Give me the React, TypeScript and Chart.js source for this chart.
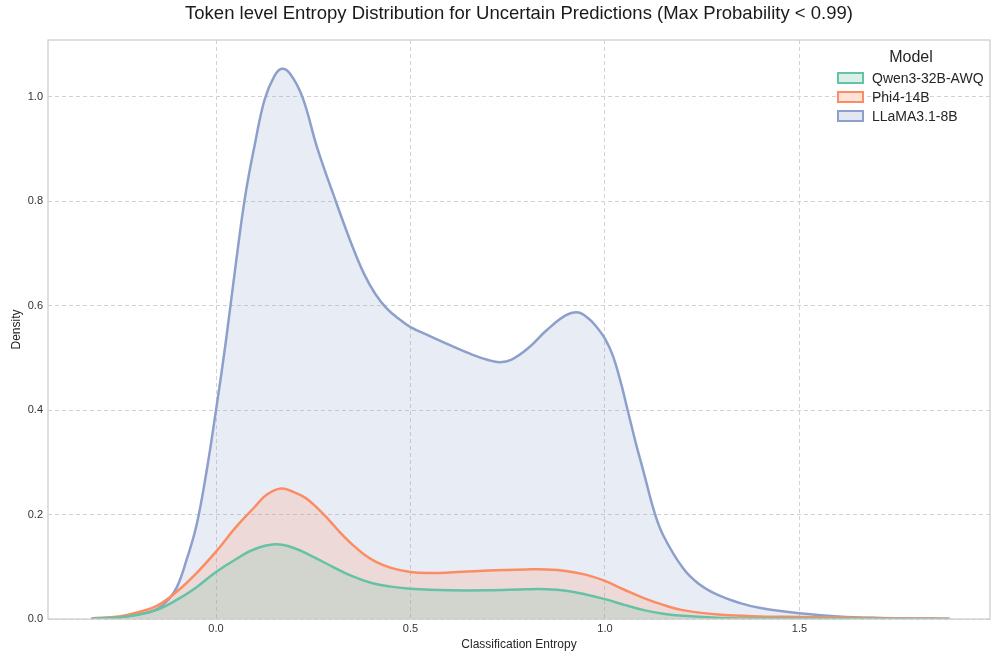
import React, { useEffect, useRef } from "react";
import { Chart, registerables } from "chart.js";

Chart.register(...registerables);

const TITLE = "Token level Entropy Distribution for Uncertain Predictions (Max Probability < 0.99)";
const X_LABEL = "Classification Entropy";
const Y_LABEL = "Density";
const LEGEND_TITLE = "Model";

const X_TICKS = [0.0, 0.5, 1.0, 1.5];
const Y_TICKS = [0.0, 0.2, 0.4, 0.6, 0.8, 1.0];
const X_MIN = -0.432;
const X_MAX = 1.99;
const Y_MAX = 1.109;

const SERIES_NAMES = ["Qwen3-32B-AWQ", "Phi4-14B", "LLaMA3.1-8B"];
const SERIES_COLORS = ["#66c2a5", "#fc8d62", "#8da0cb"];

// Qwen3-32B-AWQ
const QWEN_X = [-0.32, -0.25, -0.2, -0.15, -0.1, -0.05, 0.0, 0.05, 0.1, 0.153, 0.2, 0.25, 0.3, 0.35, 0.4, 0.45, 0.5, 0.6, 0.7, 0.8, 0.85, 0.9, 0.95, 1.0, 1.05, 1.1, 1.15, 1.2, 1.3, 1.4, 1.5, 1.7, 1.886];
const QWEN_Y = [0.0005, 0.003, 0.008, 0.018, 0.037, 0.061, 0.09, 0.114, 0.134, 0.143, 0.136, 0.119, 0.1, 0.082, 0.069, 0.062, 0.058, 0.055, 0.055, 0.057, 0.057, 0.054, 0.047, 0.038, 0.027, 0.017, 0.01, 0.006, 0.002, 0.001, 0.0006, 0.0003, 0.0001];

// Phi4-14B
const PHI_X = [-0.32, -0.25, -0.2, -0.15, -0.1, -0.05, 0.0, 0.05, 0.1, 0.13, 0.167, 0.2, 0.23, 0.26, 0.29, 0.32, 0.35, 0.38, 0.41, 0.45, 0.5, 0.55, 0.6, 0.7, 0.8, 0.85, 0.9, 0.95, 1.0, 1.05, 1.1, 1.15, 1.2, 1.3, 1.4, 1.5, 1.6, 1.7, 1.8, 1.886];
const PHI_Y = [0.001, 0.005, 0.013, 0.026, 0.053, 0.088, 0.129, 0.175, 0.215, 0.238, 0.25, 0.243, 0.232, 0.213, 0.19, 0.165, 0.143, 0.124, 0.11, 0.098, 0.09, 0.088, 0.089, 0.093, 0.095, 0.095, 0.092, 0.085, 0.073, 0.056, 0.04, 0.027, 0.017, 0.008, 0.005, 0.004, 0.003, 0.002, 0.001, 0.0005];

// LLaMA3.1-8B
const LLAMA_X = [-0.32, -0.25, -0.2, -0.175, -0.15, -0.125, -0.1, -0.075, -0.05, -0.025, 0.0, 0.025, 0.05, 0.075, 0.1, 0.125, 0.15, 0.169, 0.19, 0.222, 0.26, 0.308, 0.35, 0.38, 0.41, 0.44, 0.47, 0.5, 0.55, 0.6, 0.66, 0.7, 0.73, 0.76, 0.8, 0.85, 0.9, 0.932, 0.96, 0.98, 1.0, 1.02, 1.04, 1.06, 1.08, 1.1, 1.127, 1.15, 1.2, 1.24, 1.29, 1.35, 1.4, 1.5, 1.6, 1.7, 1.8, 1.886];
const LLAMA_Y = [0.0005, 0.003, 0.009, 0.013, 0.02, 0.035, 0.062, 0.115, 0.18, 0.28, 0.4, 0.53, 0.675, 0.81, 0.91, 0.995, 1.04, 1.054, 1.045, 1.0, 0.903, 0.8, 0.715, 0.662, 0.622, 0.594, 0.575, 0.559, 0.542, 0.525, 0.506, 0.496, 0.492, 0.497, 0.517, 0.553, 0.582, 0.587, 0.574, 0.558, 0.537, 0.505, 0.455, 0.395, 0.335, 0.28, 0.205, 0.16, 0.098, 0.068, 0.046, 0.03, 0.021, 0.011, 0.005, 0.002, 0.0007, 0.0002];

const SERIES_X = [QWEN_X, PHI_X, LLAMA_X];
const SERIES_Y = [QWEN_Y, PHI_Y, LLAMA_Y];

const FONT = "'Liberation Sans', Arial, Helvetica, sans-serif";

function hexToRgba(hex: string, a: number) {
  const n = parseInt(hex.slice(1), 16);
  return `rgba(${(n >> 16) & 255}, ${(n >> 8) & 255}, ${n & 255}, ${a})`;
}

const decorPlugin = {
  id: "decor",
  afterDraw(chart: any) {
    const { ctx, chartArea } = chart;
    const { left, right, top, bottom } = chartArea;
    ctx.save();
    // frame
    ctx.strokeStyle = "#cccccc";
    ctx.lineWidth = 1.25;
    ctx.setLineDash([]);
    ctx.strokeRect(left, top, right - left, bottom - top);
    // title
    ctx.fillStyle = "#1a1a1a";
    ctx.font = `18.5px ${FONT}`;
    ctx.textAlign = "center";
    ctx.textBaseline = "middle";
    ctx.fillText(TITLE, (left + right) / 2, 14);
    // legend
    ctx.font = `16px ${FONT}`;
    ctx.fillStyle = "#262626";
    ctx.fillText(LEGEND_TITLE, 911, 58);
    ctx.font = `14px ${FONT}`;
    ctx.textAlign = "left";
    for (let i = 0; i < SERIES_NAMES.length; i++) {
      const cy = 78 + i * 19;
      ctx.fillStyle = "#ffffff";
      ctx.fillRect(838, cy - 5, 25, 10);
      ctx.fillStyle = hexToRgba(SERIES_COLORS[i], 0.25);
      ctx.fillRect(838, cy - 5, 25, 10);
      ctx.strokeStyle = SERIES_COLORS[i];
      ctx.lineWidth = 2;
      ctx.strokeRect(838, cy - 5, 25, 10);
      ctx.fillStyle = "#262626";
      ctx.fillText(SERIES_NAMES[i], 872, cy + 1);
    }
    ctx.restore();
  },
};

export default function App() {
  const canvasRef = useRef<HTMLCanvasElement | null>(null);

  useEffect(() => {
    if (!canvasRef.current) return;
    const datasets = SERIES_NAMES.map((name, i) => ({
      label: name,
      data: SERIES_X[i].map((x, j) => ({ x, y: SERIES_Y[i][j] })),
      borderColor: SERIES_COLORS[i],
      backgroundColor: hexToRgba(SERIES_COLORS[i], 0.2),
      borderWidth: 2.5,
      fill: "origin",
      pointRadius: 0,
      tension: 0.4,
    }));

    const chart = new Chart(canvasRef.current, {
      type: "line",
      data: { datasets },
      options: {
        animation: false,
        responsive: true,
        maintainAspectRatio: false,
        layout: { padding: { top: 40, right: 2, left: 0, bottom: 0 } },
        plugins: {
          legend: { display: false },
          title: { display: false },
          tooltip: { enabled: false },
        },
        scales: {
          x: {
            type: "linear",
            min: X_MIN,
            max: X_MAX,
            afterBuildTicks: (s: any) => {
              s.ticks = X_TICKS.map((v) => ({ value: v }));
            },
            afterFit: (s: any) => {
              s.height = 36;
            },
            ticks: {
              autoSkip: false,
              maxRotation: 0,
              padding: 3,
              color: "#333333",
              font: { size: 11, family: FONT },
              callback: (v: any) => Number(v).toFixed(1),
            },
            grid: { color: "#d2d2d2", lineWidth: 1, drawTicks: false },
            border: { display: false, dash: [4, 3] },
            title: {
              display: true,
              text: X_LABEL,
              color: "#262626",
              font: { size: 12, family: FONT },
              padding: { top: 0, bottom: 3 },
            },
          },
          y: {
            type: "linear",
            min: 0,
            max: Y_MAX,
            afterBuildTicks: (s: any) => {
              s.ticks = Y_TICKS.map((v) => ({ value: v }));
            },
            afterFit: (s: any) => {
              s.width = 48;
            },
            ticks: {
              padding: 5,
              color: "#333333",
              font: { size: 11, family: FONT },
              callback: (v: any) => Number(v).toFixed(1),
            },
            grid: { color: "#d2d2d2", lineWidth: 1, drawTicks: false },
            border: { display: false, dash: [4, 3] },
            title: {
              display: true,
              text: Y_LABEL,
              color: "#262626",
              font: { size: 12, family: FONT },
              padding: { top: 9, bottom: 0 },
            },
          },
        },
      },
      plugins: [decorPlugin],
    });
    return () => chart.destroy();
  }, []);

  return (
    <div style={{ position: "fixed", left: 0, top: 0, width: 992, height: 655, background: "#ffffff" }}>
      <canvas ref={canvasRef} />
    </div>
  );
}
